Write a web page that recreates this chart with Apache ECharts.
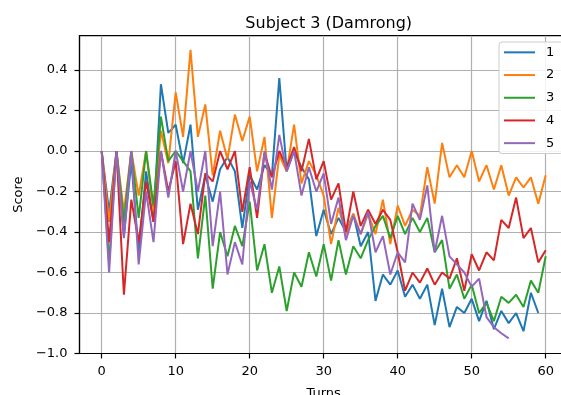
<!DOCTYPE html>
<html>
<head>
<meta charset="utf-8">
<script src="https://cdn.jsdelivr.net/npm/echarts@6/dist/echarts.min.js"></script>
<style>
  html, body { margin: 0; padding: 0; background: #fff; overflow: hidden; }
  #main { width: 561px; height: 395px; }
</style>
</head>
<body>
<div id="main"></div>
<script>
// score per turn, one array per series
const s1 = [0.0, -0.3, 0.0, -0.42, -0.05, -0.5, -0.1, -0.35, 0.33, 0.09,
  0.13, -0.06, 0.13, -0.29, -0.12, -0.25, -0.09, -0.03, -0.1, -0.38,
  -0.12, -0.19, -0.07, -0.12, 0.36, -0.1, 0.0, -0.08, -0.14, -0.42,
  -0.29, -0.41, -0.33, -0.40, -0.31, -0.47, -0.40, -0.74, -0.61, -0.66,
  -0.59, -0.72, -0.66, -0.73, -0.66, -0.86, -0.68, -0.87, -0.77, -0.80,
  -0.73, -0.84, -0.74, -0.88, -0.79, -0.85, -0.80, -0.89, -0.70, -0.80];
const s2 = [0.0, -0.35, 0.0, -0.3, 0.0, -0.22, 0.0, -0.3, 0.1, -0.06,
  0.29, 0.07, 0.50, 0.07, 0.23, -0.12, 0.10, -0.04, 0.18, 0.05,
  0.17, -0.10, 0.07, -0.33, -0.02, -0.10, 0.13, -0.16, -0.05, -0.12,
  -0.22, -0.46, -0.28, -0.41, -0.31, -0.41, -0.31, -0.41, -0.24, -0.46,
  -0.27, -0.37, -0.29, -0.32, -0.08, -0.26, 0.04, -0.13, -0.07, -0.13,
  0.0, -0.15, -0.07, -0.19, -0.07, -0.22, -0.13, -0.18, -0.13, -0.26, -0.12];
const s3 = [0.0, -0.55, 0.0, -0.35, 0.0, -0.33, 0.0, -0.27, 0.17, -0.05,
  0.0, -0.05, -0.1, -0.53, -0.22, -0.68, -0.40, -0.52, -0.37, -0.47,
  -0.25, -0.59, -0.46, -0.70, -0.57, -0.79, -0.60, -0.67, -0.50, -0.62,
  -0.46, -0.64, -0.44, -0.61, -0.47, -0.53, -0.44, -0.37, -0.32, -0.43,
  -0.32, -0.41, -0.33, -0.40, -0.33, -0.50, -0.44, -0.68, -0.61, -0.73,
  -0.66, -0.80, -0.75, -0.84, -0.72, -0.75, -0.71, -0.77, -0.64, -0.70, -0.52];
const s4 = [0.0, -0.45, 0.0, -0.71, -0.24, -0.45, -0.15, -0.35, 0.0, -0.2,
  -0.05, -0.46, -0.26, -0.41, -0.11, -0.15, 0.0, -0.09, 0.0, -0.30,
  -0.08, -0.33, -0.01, -0.13, 0.0, -0.08, 0.02, -0.10, 0.06, -0.14,
  -0.05, -0.24, -0.16, -0.40, -0.20, -0.37, -0.29, -0.36, -0.29, -0.34,
  -0.50, -0.69, -0.60, -0.65, -0.58, -0.66, -0.60, -0.63, -0.53, -0.69,
  -0.51, -0.59, -0.50, -0.54, -0.34, -0.38, -0.23, -0.43, -0.38, -0.55, -0.49];
const s5 = [0.0, -0.6, 0.0, -0.43, 0.0, -0.56, -0.2, -0.45, 0.0, -0.23,
  0.0, -0.2, 0.0, -0.2, 0.0, -0.47, -0.2, -0.61, -0.45, -0.56,
  -0.15, -0.29, 0.0, -0.19, 0.08, -0.1, 0.0, -0.22, -0.08, -0.2,
  -0.11, -0.36, -0.23, -0.44, -0.32, -0.41, -0.30, -0.50, -0.42, -0.61,
  -0.50, -0.55, -0.26, -0.34, -0.17, -0.50, -0.32, -0.52, -0.56, -0.60,
  -0.67, -0.63, -0.82, -0.87, -0.90, -0.925];

const names = ['1', '2', '3', '4', '5'];
const colors = ['#1f77b4', '#ff7f0e', '#2ca02c', '#d62728', '#9467bd'];
const xTicks = [0, 10, 20, 30, 40, 50, 60];
const yTicks = [-1.0, -0.8, -0.6, -0.4, -0.2, 0.0, 0.2, 0.4];

const font = 'DejaVu Sans';
const dark = '#000';
const gridColor = '#b0b0b0';

let chart = echarts.init(document.getElementById('main'));

function toPairs(arr) {
  return arr.map((v, i) => [i, v]);
}

const series = [s1, s2, s3, s4, s5].map((arr, k) => ({
  name: names[k],
  type: 'line',
  data: toPairs(arr),
  z: 3 + k,
  showSymbol: false,
  symbol: 'none',
  lineStyle: { width: 2, color: colors[k] },
  itemStyle: { color: colors[k] },
  emphasis: { disabled: true }
}));

let option = {
  animation: false,
  backgroundColor: '#fff',
  title: {
    text: 'Subject 3 (Damrong)',
    left: 323.7,
    textAlign: 'center',
    top: 11,
    textStyle: { fontFamily: font, fontSize: 16, fontWeight: 'normal', color: '#000' }
  },
  legend: {
    orient: 'vertical',
    left: 499,
    top: 42,
    padding: [3, 9, 3, 5],
    itemGap: 8,
    itemWidth: 31,
    itemHeight: 2,
    icon: 'rect',
    backgroundColor: 'rgba(255,255,255,0.85)',
    borderColor: '#cccccc',
    borderWidth: 1,
    borderRadius: 3,
    textStyle: { fontFamily: font, fontSize: 13, lineHeight: 14.7, color: '#000', padding: [0, 0, 0, 6] },
    data: names
  },
  grid: {
    left: 79.5,
    right: -6.9,
    top: 35.7,
    bottom: 41.5,
    outerBoundsMode: 'none',
    show: true,
    borderColor: dark,
    borderWidth: 1.2
  },
  xAxis: {
    type: 'value',
    min: -3,
    max: 63,
    splitNumber: 7,
    name: 'Turns',
    nameLocation: 'middle',
    nameGap: 34,
    nameTextStyle: { fontFamily: font, fontSize: 13, color: '#000' },
    axisLine: { show: true, onZero: false, lineStyle: { color: dark, width: 1.2 } },
    axisTick: { show: true, length: 5, customValues: xTicks, lineStyle: { color: dark, width: 1.2 } },
    axisLabel: {
      customValues: xTicks,
      margin: 12,
      fontFamily: font,
      fontSize: 13,
      color: '#000'
    },
    splitLine: { show: true, lineStyle: { color: gridColor, width: 1.2 } }
  },
  yAxis: {
    type: 'value',
    min: -1.0,
    max: 0.5696,
    splitNumber: 8,
    name: 'Score',
    nameLocation: 'middle',
    nameGap: 51,
    nameTextStyle: { fontFamily: font, fontSize: 13, color: '#000' },
    axisLine: { show: true, onZero: false, lineStyle: { color: dark, width: 1.2 } },
    axisTick: { show: true, length: 5, customValues: yTicks, lineStyle: { color: dark, width: 1.2 } },
    axisLabel: {
      customValues: yTicks,
      margin: 12,
      fontFamily: font,
      fontSize: 13,
      color: '#000',
      formatter: v => v.toFixed(1).replace('-', '\u2212')
    },
    splitLine: { show: true, lineStyle: { color: gridColor, width: 1.2 } }
  },
  series: series
};

chart.setOption(option);
</script>
</body>
</html>
